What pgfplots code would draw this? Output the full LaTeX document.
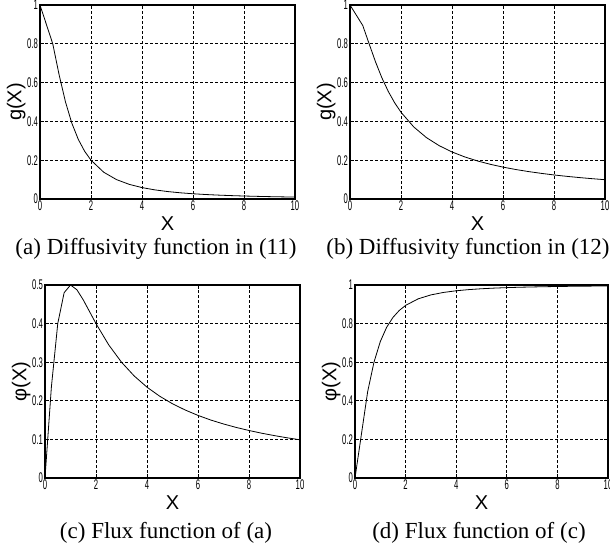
\documentclass[border=0pt]{standalone}
\usepackage{fontspec}
\setmainfont{Liberation Serif}
\newfontfamily\helv{Liberation Sans}
\newfontfamily\tickf[FakeStretch=0.55]{Liberation Sans}
\usepackage{pgfplots}
\pgfplotsset{compat=1.18}

\pgfplotsset{matlab/.style={
    scale only axis,
    width=127.5pt, height=97pt,
    xmin=0, xmax=10, ymin=0,
    xtick={0,2,...,10},
    grid=major,
    major grid style={black, dash pattern=on 1.5pt off 1pt, line width=0.4pt},
    axis line style={line width=1pt},
    tick align=inside, tick style={black, line width=0.4pt}, major tick length=2pt,
    /pgf/number format/assume math mode=true,
    ticklabel style={font=\tickf\fontsize{7}{7}\selectfont},
    xticklabel style={yshift=2.5pt},
    yticklabel style={xshift=2.5pt},
    label style={font=\helv\fontsize{10}{11}\selectfont},
    xlabel={X},
    xlabel style={yshift=4pt},
    ylabel style={yshift=-6pt},
    cycle list={{black, no markers, line width=0.5pt}},
  }}

\begin{document}
\begin{tikzpicture}
\useasboundingbox (0,0) rectangle (305pt,276.5pt);
\begin{axis}[matlab, at={(20pt,177pt)}, ymax=1, ylabel={g(X)},
  ytick={0,0.2,...,1}, yticklabels={0,0.2,0.4,0.6,0.8,1}]
\addplot coordinates {(0,1) (0.5,0.8) (0.75,0.64) (1,0.5) (1.25,0.3902) (1.5,0.3077)
 (1.75,0.2462) (2,0.2) (2.5,0.1379) (3,0.1) (3.5,0.0755) (4,0.0588) (4.5,0.0471)
 (5,0.0385) (5.5,0.0320) (6,0.0270) (6.5,0.0231) (7,0.02) (7.5,0.0175) (8,0.0154)
 (8.5,0.0137) (9,0.0122) (9.5,0.0110) (10,0.0099)};
\end{axis}
\node[font=\fontsize{11.5}{14}\selectfont, anchor=base] at (78pt,149.5pt) {(a) Diffusivity function in (11)};

\begin{axis}[matlab, at={(175pt,177pt)}, ymax=1, ylabel={g(X)},
  ytick={0,0.2,...,1}, yticklabels={0,0.2,0.4,0.6,0.8,1}]
\addplot coordinates {(0,1) (0.5,0.8944) (0.75,0.8) (1,0.7071) (1.25,0.6247) (1.5,0.5547)
 (1.75,0.4961) (2,0.4472) (2.5,0.3714) (3,0.3162) (3.5,0.2747) (4,0.2425) (4.5,0.2169)
 (5,0.1961) (5.5,0.1789) (6,0.1644) (6.5,0.1520) (7,0.1414) (7.5,0.1322) (8,0.1240)
 (8.5,0.1168) (9,0.1104) (9.5,0.1047) (10,0.0995)};
\end{axis}
\node[font=\fontsize{11.5}{14}\selectfont, anchor=base] at (234pt,149.5pt) {(b) Diffusivity function in (12)};

\begin{axis}[matlab, at={(22.5pt,37.5pt)}, height=96.5pt, ymax=0.5, ylabel={φ(X)},
  ytick={0,0.1,...,0.5}, yticklabels={0,0.1,0.2,0.3,0.4,0.5}]
\addplot coordinates {(0,0) (0.25,0.2353) (0.5,0.4) (0.75,0.48) (1,0.5) (1.25,0.4878)
 (1.5,0.4615) (1.75,0.4308) (2,0.4) (2.5,0.3448) (3,0.3) (3.5,0.2642) (4,0.2353)
 (4.5,0.2118) (5,0.1923) (5.5,0.1761) (6,0.1622) (6.5,0.1502) (7,0.14) (7.5,0.1310)
 (8,0.1231) (8.5,0.1160) (9,0.1098) (9.5,0.1041) (10,0.0990)};
\end{axis}
\node[font=\fontsize{11.5}{14}\selectfont, anchor=base] at (83pt,7.5pt) {(c) Flux function of (a)};

\begin{axis}[matlab, at={(177.5pt,37.5pt)}, width=126.5pt, height=96.5pt, ymax=1, ylabel={φ(X)},
  ytick={0,0.2,...,1}, yticklabels={0,0.2,0.4,0.6,0.8,1}]
\addplot coordinates {(0,0) (0.5,0.4472) (0.75,0.6) (1,0.7071) (1.25,0.7809) (1.5,0.8321)
 (1.75,0.8682) (2,0.8944) (2.5,0.9285) (3,0.9487) (3.5,0.9615) (4,0.9701) (4.5,0.9762)
 (5,0.9806) (5.5,0.9839) (6,0.9864) (6.5,0.9884) (7,0.9899) (7.5,0.9912) (8,0.9923)
 (8.5,0.9932) (9,0.9939) (9.5,0.9945) (10,0.9950)};
\end{axis}
\node[font=\fontsize{11.5}{14}\selectfont, anchor=base] at (239.5pt,7.5pt) {(d) Flux function of (c)};
\end{tikzpicture}
\end{document}
